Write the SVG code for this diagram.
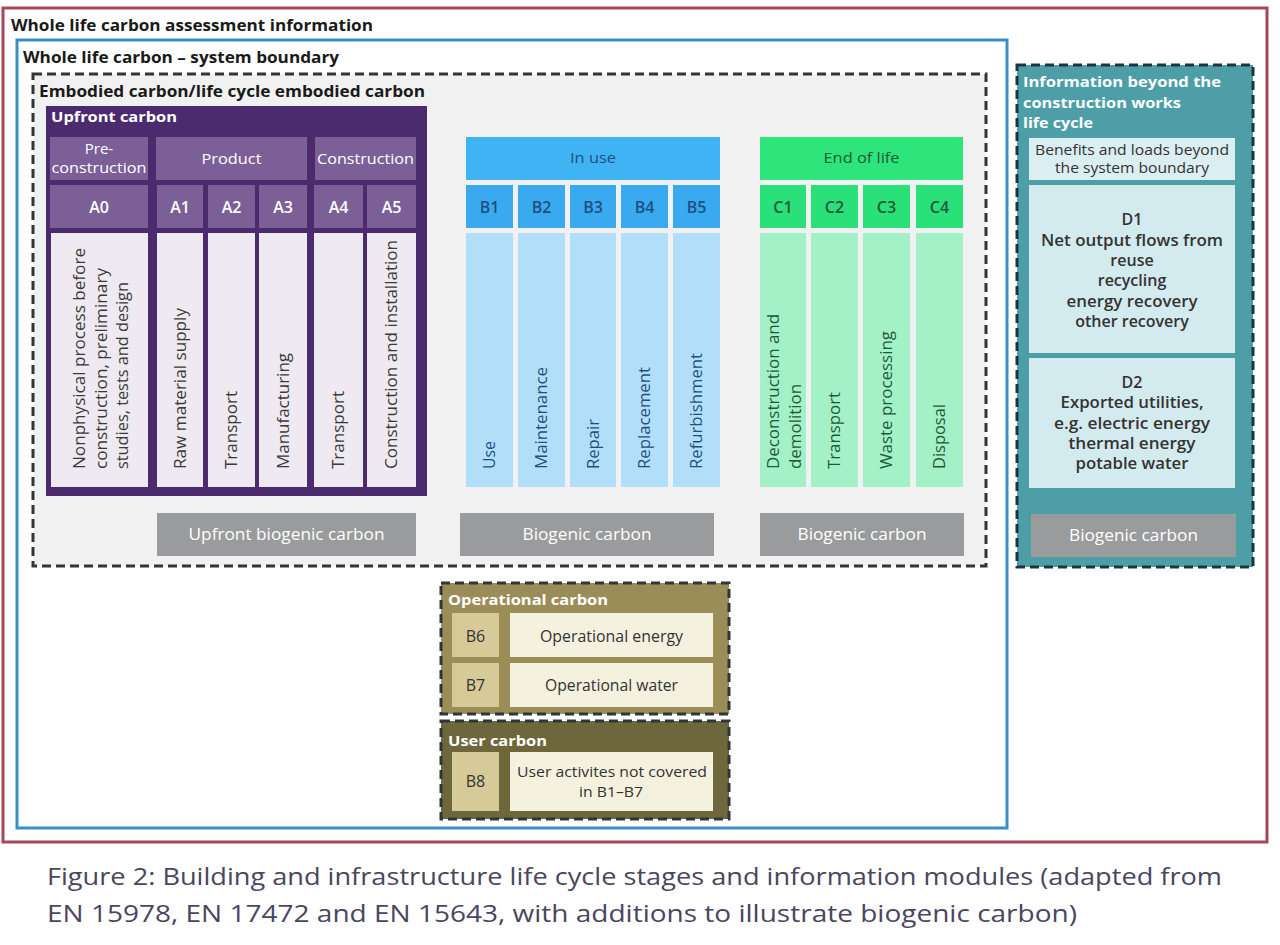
<svg xmlns="http://www.w3.org/2000/svg" width="1280" height="945" viewBox="0 0 1280 945">
<style>
text{font-family:"Open Sans","Noto Sans","Liberation Sans",sans-serif}
.ttl{font-size:16px;font-weight:700;fill:#1a1a1a}
.wt{font-size:15px;font-weight:700;fill:#ffffff}
.hd{font-size:15px;fill:#ffffff;text-anchor:middle}
.code{font-size:16px;font-weight:600;fill:#ffffff;text-anchor:middle}
.rot{font-size:16.5px;fill:#3a3a3a}
.rotb{font-size:16.5px;fill:#1e4f80}
.rotg{font-size:16.5px;fill:#1d5a38}
.bio{font-size:17px;fill:#ffffff;text-anchor:middle}
.dark{font-size:15px;fill:#333333;text-anchor:middle}
.dtx{font-size:16px;font-weight:600;fill:#333333;text-anchor:middle}
.cap{font-size:24px;fill:#4a4660}
.dash{stroke:#2f3638;stroke-width:3;stroke-dasharray:9 5}
.pm{fill:#7c5f97}
.pl{fill:#efe9f2}
.bh{fill:#40b3f5}
.bc{fill:#3aaaf0}
.bl{fill:#b1dffa}
.gh{fill:#2de57a}
.gc{fill:#2ae079}
.gl{fill:#a4f0c7}
.gr{fill:#9a9b9c}
.tl{fill:#d3eaee}
.tan{fill:#d6ca98}
.crm{fill:#f4f1df}
</style>

<g id="wlc-assessment">
<rect x="3" y="8" width="1264" height="834" fill="#ffffff" stroke="#a5485a" stroke-width="3"/>
<text class="ttl" x="11" y="31" textLength="362" lengthAdjust="spacingAndGlyphs">Whole life carbon assessment information</text>
</g>

<g id="system-boundary">
<rect x="17" y="40" width="990" height="788" fill="#ffffff" stroke="#3a8fc4" stroke-width="3"/>
<text class="ttl" x="23" y="63" textLength="316" lengthAdjust="spacingAndGlyphs">Whole life carbon – system boundary</text>
</g>

<g id="embodied-carbon">
<rect x="33" y="74" width="953" height="492" fill="#f1f1f1" class="dash"/>
<text class="ttl" x="39" y="97" textLength="386" lengthAdjust="spacingAndGlyphs">Embodied carbon/life cycle embodied carbon</text>
</g>

<g id="upfront-carbon">
<rect x="46" y="106" width="381" height="390" fill="#4b2a6d"/>
<text class="wt" x="51" y="122" textLength="126" lengthAdjust="spacingAndGlyphs">Upfront carbon</text>
<rect class="pm" x="50" y="137" width="98" height="43"/>
<text class="hd" x="99" y="154">Pre-</text>
<text class="hd" x="99" y="173" textLength="95" lengthAdjust="spacingAndGlyphs">construction</text>
<rect class="pm" x="156" y="137" width="151" height="43"/>
<text class="hd" x="231.5" y="164" textLength="60" lengthAdjust="spacingAndGlyphs">Product</text>
<rect class="pm" x="315" y="137" width="101" height="43"/>
<text class="hd" x="365.5" y="164" textLength="97" lengthAdjust="spacingAndGlyphs">Construction</text>
</g>

<g id="A0">
<rect class="pm" x="50" y="185" width="98" height="43"/>
<text class="code" x="99" y="213">A0</text>
<rect class="pl" x="51" y="233" width="97" height="254"/>
<text class="rot" transform="translate(85,469) rotate(-90)" textLength="221" lengthAdjust="spacingAndGlyphs">Nonphysical process before</text>
<text class="rot" transform="translate(106.5,469) rotate(-90)" textLength="201" lengthAdjust="spacingAndGlyphs">construction, preliminary</text>
<text class="rot" transform="translate(128,469) rotate(-90)" textLength="187" lengthAdjust="spacingAndGlyphs">studies, tests and design</text>
</g>
<g id="A1">
<rect class="pm" x="157" y="185" width="46" height="43"/>
<text class="code" x="180" y="213">A1</text>
<rect class="pl" x="157" y="233" width="46" height="254"/>
<text class="rot" transform="translate(185.5,469) rotate(-90)" textLength="161" lengthAdjust="spacingAndGlyphs">Raw material supply</text>
</g>
<g id="A2">
<rect class="pm" x="208" y="185" width="47" height="43"/>
<text class="code" x="231.5" y="213">A2</text>
<rect class="pl" x="208" y="233" width="47" height="254"/>
<text class="rot" transform="translate(237,469) rotate(-90)" textLength="78" lengthAdjust="spacingAndGlyphs">Transport</text>
</g>
<g id="A3">
<rect class="pm" x="259" y="185" width="48" height="43"/>
<text class="code" x="283" y="213">A3</text>
<rect class="pl" x="259" y="233" width="48" height="254"/>
<text class="rot" transform="translate(288.5,469) rotate(-90)" textLength="116" lengthAdjust="spacingAndGlyphs">Manufacturing</text>
</g>
<g id="A4">
<rect class="pm" x="314" y="185" width="49" height="43"/>
<text class="code" x="338.5" y="213">A4</text>
<rect class="pl" x="314" y="233" width="49" height="254"/>
<text class="rot" transform="translate(344,469) rotate(-90)" textLength="78" lengthAdjust="spacingAndGlyphs">Transport</text>
</g>
<g id="A5">
<rect class="pm" x="367" y="185" width="49" height="43"/>
<text class="code" x="391.5" y="213">A5</text>
<rect class="pl" x="367" y="233" width="49" height="254"/>
<text class="rot" transform="translate(397,469) rotate(-90)" textLength="229" lengthAdjust="spacingAndGlyphs">Construction and installation</text>
</g>

<g id="upfront-biogenic">
<rect class="gr" x="157" y="513" width="259" height="43"/>
<text class="bio" x="286.5" y="540" textLength="196" lengthAdjust="spacingAndGlyphs">Upfront biogenic carbon</text>
</g>

<g id="in-use">
<rect class="bh" x="466" y="137" width="254" height="43"/>
<text class="dark" x="593" y="163" style="fill:#1e4f80" textLength="46" lengthAdjust="spacingAndGlyphs">In use</text>
</g>
<g id="B1">
<rect class="bc" x="466" y="185" width="47" height="43"/>
<text class="code" x="489.5" y="213" style="fill:#1e4f80">B1</text>
<rect class="bl" x="466" y="233" width="47" height="254"/>
<text class="rotb" transform="translate(495,469) rotate(-90)" textLength="28" lengthAdjust="spacingAndGlyphs">Use</text>
</g>
<g id="B2">
<rect class="bc" x="518" y="185" width="47" height="43"/>
<text class="code" x="541.5" y="213" style="fill:#1e4f80">B2</text>
<rect class="bl" x="518" y="233" width="47" height="254"/>
<text class="rotb" transform="translate(547,469) rotate(-90)" textLength="102" lengthAdjust="spacingAndGlyphs">Maintenance</text>
</g>
<g id="B3">
<rect class="bc" x="570" y="185" width="46" height="43"/>
<text class="code" x="593" y="213" style="fill:#1e4f80">B3</text>
<rect class="bl" x="570" y="233" width="46" height="254"/>
<text class="rotb" transform="translate(598.5,469) rotate(-90)" textLength="50" lengthAdjust="spacingAndGlyphs">Repair</text>
</g>
<g id="B4">
<rect class="bc" x="621" y="185" width="47" height="43"/>
<text class="code" x="644.5" y="213" style="fill:#1e4f80">B4</text>
<rect class="bl" x="621" y="233" width="47" height="254"/>
<text class="rotb" transform="translate(650,469) rotate(-90)" textLength="102" lengthAdjust="spacingAndGlyphs">Replacement</text>
</g>
<g id="B5">
<rect class="bc" x="673" y="185" width="47" height="43"/>
<text class="code" x="696.5" y="213" style="fill:#1e4f80">B5</text>
<rect class="bl" x="673" y="233" width="47" height="254"/>
<text class="rotb" transform="translate(702,469) rotate(-90)" textLength="116" lengthAdjust="spacingAndGlyphs">Refurbishment</text>
</g>
<g id="in-use-biogenic">
<rect class="gr" x="460" y="513" width="254" height="43"/>
<text class="bio" x="587" y="540" textLength="129" lengthAdjust="spacingAndGlyphs">Biogenic carbon</text>
</g>

<g id="end-of-life">
<rect class="gh" x="760" y="137" width="203" height="43"/>
<text class="dark" x="861.5" y="163" style="fill:#1d5a38" textLength="76" lengthAdjust="spacingAndGlyphs">End of life</text>
</g>
<g id="C1">
<rect class="gc" x="760" y="185" width="46" height="43"/>
<text class="code" x="783" y="213" style="fill:#1d5a38">C1</text>
<rect class="gl" x="760" y="233" width="46" height="254"/>
<text class="rotg" transform="translate(779,469) rotate(-90)" textLength="155" lengthAdjust="spacingAndGlyphs">Deconstruction and</text>
<text class="rotg" transform="translate(801,469) rotate(-90)" textLength="85" lengthAdjust="spacingAndGlyphs">demolition</text>
</g>
<g id="C2">
<rect class="gc" x="811" y="185" width="47" height="43"/>
<text class="code" x="834.5" y="213" style="fill:#1d5a38">C2</text>
<rect class="gl" x="811" y="233" width="47" height="254"/>
<text class="rotg" transform="translate(840,469) rotate(-90)" textLength="77" lengthAdjust="spacingAndGlyphs">Transport</text>
</g>
<g id="C3">
<rect class="gc" x="863" y="185" width="47" height="43"/>
<text class="code" x="886.5" y="213" style="fill:#1d5a38">C3</text>
<rect class="gl" x="863" y="233" width="47" height="254"/>
<text class="rotg" transform="translate(892,469) rotate(-90)" textLength="138" lengthAdjust="spacingAndGlyphs">Waste processing</text>
</g>
<g id="C4">
<rect class="gc" x="916" y="185" width="47" height="43"/>
<text class="code" x="939.5" y="213" style="fill:#1d5a38">C4</text>
<rect class="gl" x="916" y="233" width="47" height="254"/>
<text class="rotg" transform="translate(945,469) rotate(-90)" textLength="65" lengthAdjust="spacingAndGlyphs">Disposal</text>
</g>
<g id="eol-biogenic">
<rect class="gr" x="760" y="513" width="204" height="43"/>
<text class="bio" x="862" y="540" textLength="129" lengthAdjust="spacingAndGlyphs">Biogenic carbon</text>
</g>

<g id="beyond-life-cycle">
<rect x="1017" y="65" width="236" height="502" fill="#4d9ea7" class="dash" style="stroke:#1e3440"/>
<text class="wt" x="1023" y="87" textLength="198" lengthAdjust="spacingAndGlyphs">Information beyond the</text>
<text class="wt" x="1023" y="108" textLength="158" lengthAdjust="spacingAndGlyphs">construction works</text>
<text class="wt" x="1023" y="128" textLength="70" lengthAdjust="spacingAndGlyphs">life cycle</text>
</g>
<g id="benefits-loads">
<rect x="1029" y="138" width="206" height="42" fill="#dbeef1"/>
<text class="dark" x="1132" y="155" style="font-size:14px" textLength="194" lengthAdjust="spacingAndGlyphs">Benefits and loads beyond</text>
<text class="dark" x="1132" y="173" style="font-size:14px" textLength="154" lengthAdjust="spacingAndGlyphs">the system boundary</text>
</g>
<g id="D1">
<rect class="tl" x="1029" y="185" width="206" height="168"/>
<text class="dtx" x="1132" y="225">D1</text>
<text class="dtx" x="1132" y="245.5" textLength="182" lengthAdjust="spacingAndGlyphs">Net output flows from</text>
<text class="dtx" x="1132" y="265.5">reuse</text>
<text class="dtx" x="1132" y="286">recycling</text>
<text class="dtx" x="1132" y="306.5" textLength="131" lengthAdjust="spacingAndGlyphs">energy recovery</text>
<text class="dtx" x="1132" y="327">other recovery</text>
</g>
<g id="D2">
<rect class="tl" x="1029" y="358" width="206" height="130"/>
<text class="dtx" x="1132" y="388">D2</text>
<text class="dtx" x="1132" y="408" textLength="143" lengthAdjust="spacingAndGlyphs">Exported utilities,</text>
<text class="dtx" x="1132" y="429" textLength="156" lengthAdjust="spacingAndGlyphs">e.g. electric energy</text>
<text class="dtx" x="1132" y="449" textLength="127" lengthAdjust="spacingAndGlyphs">thermal energy</text>
<text class="dtx" x="1132" y="469" textLength="113" lengthAdjust="spacingAndGlyphs">potable water</text>
</g>
<g id="D-biogenic">
<rect class="gr" x="1031" y="514" width="205" height="43"/>
<text class="bio" x="1133.5" y="541" textLength="129" lengthAdjust="spacingAndGlyphs">Biogenic carbon</text>
</g>

<g id="operational-carbon">
<rect x="441" y="583" width="288" height="131" fill="#9a8d58" class="dash"/>
<text class="wt" x="448" y="605" textLength="160" lengthAdjust="spacingAndGlyphs">Operational carbon</text>
</g>
<g id="B6">
<rect class="tan" x="452" y="613" width="47" height="44"/>
<text class="dark" x="475.5" y="642" style="font-size:16px">B6</text>
<rect class="crm" x="510" y="613" width="203" height="44"/>
<text class="dark" x="611.5" y="642" style="font-size:16px" textLength="143" lengthAdjust="spacingAndGlyphs">Operational energy</text>
</g>
<g id="B7">
<rect class="tan" x="452" y="663" width="47" height="44"/>
<text class="dark" x="475.5" y="691" style="font-size:16px">B7</text>
<rect class="crm" x="510" y="663" width="203" height="44"/>
<text class="dark" x="611.5" y="691" style="font-size:16px" textLength="133" lengthAdjust="spacingAndGlyphs">Operational water</text>
</g>

<g id="user-carbon">
<rect x="441" y="721" width="288" height="98" fill="#6e673c" class="dash"/>
<text class="wt" x="448" y="746" textLength="99" lengthAdjust="spacingAndGlyphs">User carbon</text>
</g>
<g id="B8">
<rect class="tan" x="452" y="752" width="47" height="59"/>
<text class="dark" x="475.5" y="787" style="font-size:16px">B8</text>
<rect class="crm" x="510" y="752" width="203" height="59"/>
<text class="dark" x="612" y="777" textLength="190" lengthAdjust="spacingAndGlyphs">User activites not covered</text>
<text class="dark" x="611" y="797" textLength="64" lengthAdjust="spacingAndGlyphs">in B1–B7</text>
</g>

<g id="connectors"></g>

<g id="caption">
<text class="cap" x="47" y="885" textLength="1175" lengthAdjust="spacingAndGlyphs">Figure 2: Building and infrastructure life cycle stages and information modules (adapted from</text>
<text class="cap" x="47" y="922" textLength="1030" lengthAdjust="spacingAndGlyphs">EN 15978, EN 17472 and EN 15643, with additions to illustrate biogenic carbon)</text>
</g>
</svg>
